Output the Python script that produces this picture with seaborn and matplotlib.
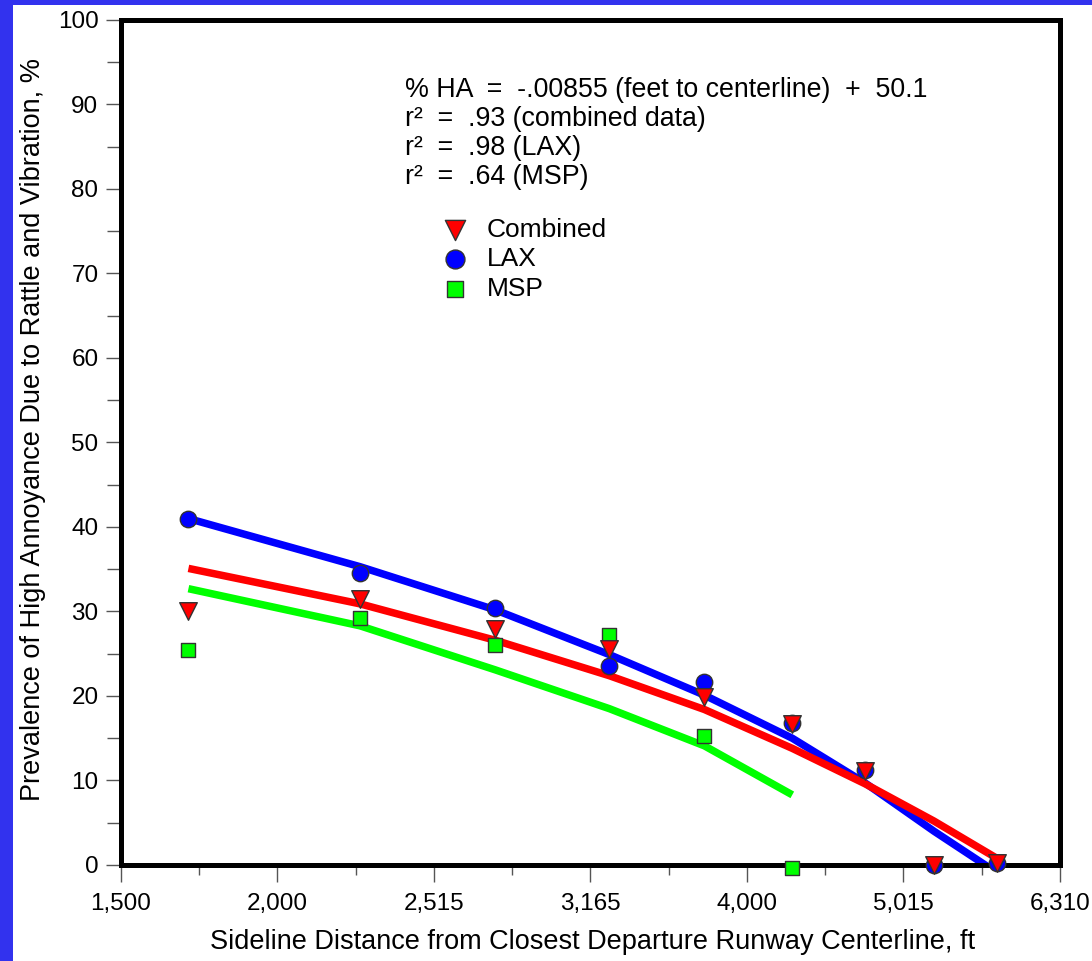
import numpy as np
import matplotlib
matplotlib.use("Agg")
import matplotlib.pyplot as plt
from matplotlib.patches import Rectangle
import seaborn as sns

# sideline distance (ft) and % highly annoyed
lax_ft = [1751, 2254, 2749, 3252, 3740, 4256, 4738, 5242, 5749]
lax_ha = [41.0, 34.6, 30.4, 23.5, 21.6, 16.8, 11.2, 0.0, 0.2]
comb_ft = [1751, 2254, 2749, 3252, 3740, 4256, 4738, 5242, 5749]
comb_ha = [30.1, 31.5, 27.9, 25.6, 19.9, 16.7, 11.1, 0.0, 0.2]
msp_ft = [1751, 2254, 2749, 3252, 3740, 4256]
msp_ha = [25.4, 29.2, 26.0, 27.2, 15.3, -0.4]

# fitted curves, read at the same distances
lax_fit = [41.0, 35.3, 30.2, 24.9, 20.1, 15.0, 9.7, 4.0, -0.9]
comb_fit = [35.1, 30.9, 26.6, 22.4, 18.4, 13.8, 9.6, 5.2, 0.8]
msp_fit = [32.7, 28.3, 23.1, 18.5, 14.1, 8.3]

xtick_labels = ["1,500", "2,000", "2,515", "3,165", "4,000", "5,015", "6,310"]
eq_lines = [
    "% HA  =  -.00855 (feet to centerline)  +  50.1",
    "r\u00b2  =  .93 (combined data)",
    "r\u00b2  =  .98 (LAX)",
    "r\u00b2  =  .64 (MSP)",
]

sns.set_style("ticks")
plt.rcParams["font.family"] = ["Liberation Sans", "DejaVu Sans"]
plt.rcParams["text.color"] = "black"
plt.rcParams["axes.labelcolor"] = "black"
plt.rcParams["xtick.labelcolor"] = "black"
plt.rcParams["ytick.labelcolor"] = "black"

fig = plt.figure(figsize=(10.92, 9.61), dpi=100)
fig.patch.set_facecolor("#3232ee")
fig.patches.append(Rectangle((13 / 1092, 0), 1, 1 - 5 / 961, transform=fig.transFigure,
                             facecolor="white", edgecolor="none", zorder=-10))
ax = fig.add_axes([0.1105, 0.0999, 0.8602, 0.8793])
ax.set_facecolor("white")

# fitted lines
sns.lineplot(x=lax_ft, y=lax_fit, ax=ax, color="#0000ff", linewidth=5.4, sort=False,
             estimator=None, solid_capstyle="butt", zorder=2)
sns.lineplot(x=comb_ft, y=comb_fit, ax=ax, color="#ff0000", linewidth=5.4, sort=False,
             estimator=None, solid_capstyle="butt", zorder=2.2)
sns.lineplot(x=msp_ft, y=msp_fit, ax=ax, color="#00ff00", linewidth=5.4, sort=False,
             estimator=None, solid_capstyle="butt", zorder=2.1)

# measured points
sns.scatterplot(x=lax_ft, y=lax_ha, ax=ax, marker="o", s=140, color="#0000ff",
                edgecolor="#333333", linewidth=1, zorder=4, clip_on=False, label="LAX")
sns.scatterplot(x=msp_ft, y=msp_ha, ax=ax, marker="s", s=105, color="#00ff00",
                edgecolor="#333333", linewidth=1, zorder=4.5, clip_on=False, label="MSP")
sns.scatterplot(x=comb_ft, y=comb_ha, ax=ax, marker="v", s=160, color="#ff0000",
                edgecolor="#333333", linewidth=1, zorder=5, clip_on=False, label="Combined")

ax.set_xscale("log")
ax.set_xlim(10 ** 3.2, 10 ** 3.8)
ax.set_ylim(0, 100)
ax.set_xticks(10 ** np.arange(3.2, 3.81, 0.1))
ax.set_xticklabels(xtick_labels)
ax.set_xticks(10 ** np.arange(3.25, 3.8, 0.1), minor=True)
ax.set_xticklabels([], minor=True)
ax.set_yticks(np.arange(0, 101, 10))
ax.set_yticks(np.arange(5, 100, 10), minor=True)

for side in ["left", "right", "top", "bottom"]:
    ax.spines[side].set_visible(True)
    ax.spines[side].set_linewidth(3.6)
    ax.spines[side].set_color("black")

ax.tick_params(axis="y", which="major", direction="out", length=11, width=1,
               color="#555555", labelsize=17.5, pad=5)
ax.tick_params(axis="y", which="minor", direction="out", length=10, width=1, color="#555555")
ax.tick_params(axis="x", which="major", direction="out", length=12, width=1,
               color="#555555", labelsize=17.5, pad=8)
ax.tick_params(axis="x", which="minor", direction="out", length=7, width=1, color="#555555")

ax.set_xlabel("Sideline Distance from Closest Departure Runway Centerline, ft", fontsize=19.5)
ax.set_ylabel("Prevalence of High Annoyance Due to Rattle and Vibration, %", fontsize=19.5)
ax.yaxis.set_label_coords(-0.08, 0.515)
ax.xaxis.set_label_coords(0.502, -0.076)

for i, line in enumerate(eq_lines):
    fig.text(405 / 1092, 1 - (90 + 29 * i) / 961, line, fontsize=19.3, va="center", ha="left")

handles, labels = ax.get_legend_handles_labels()
order = [labels.index(n) for n in ["Combined", "LAX", "MSP"]]
ax.legend([handles[i] for i in order], [labels[i] for i in order],
          loc="upper left", bbox_to_anchor=(443 / 1092, 1 - 218 / 961),
          bbox_transform=fig.transFigure, frameon=False, fontsize=19,
          borderpad=0, borderaxespad=0, handlelength=0.9, handletextpad=0.75,
          labelspacing=0.2, markerscale=1.15)

fig.savefig("out.png", dpi=100, facecolor=fig.get_facecolor())
